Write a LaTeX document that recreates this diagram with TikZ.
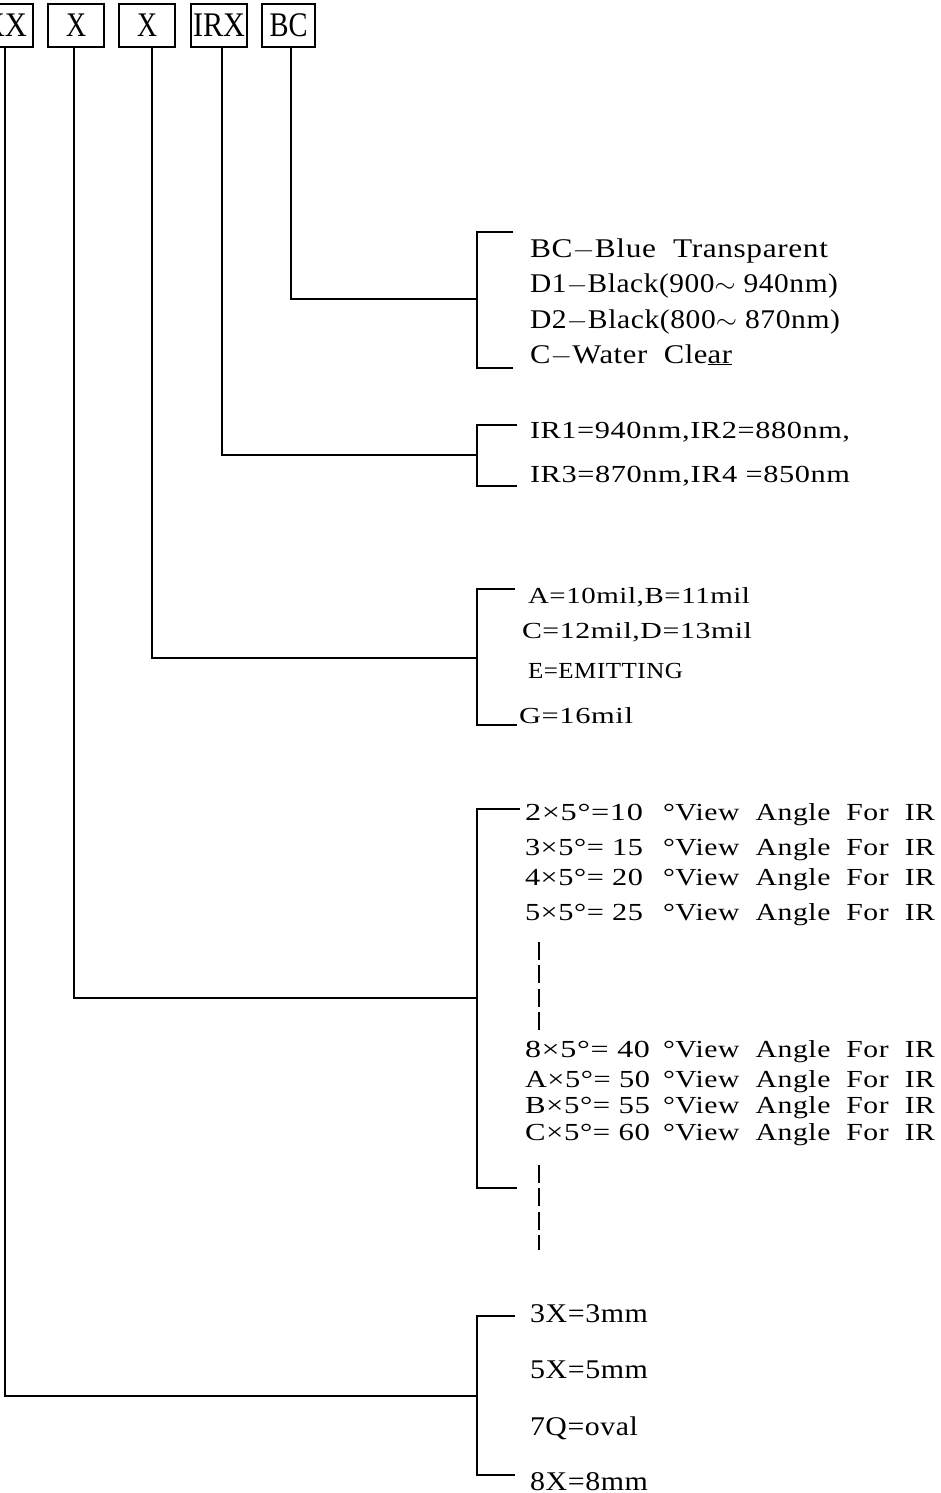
\documentclass[tikz,border=0pt]{standalone}
\usepackage{fontspec}
\usepackage{graphicx}
\setmainfont{Liberation Serif}
\newfontfamily\dfont{Liberation Serif}[LetterSpace=2]
\newcommand\ft[3]{\resizebox{#1pt}{\height}{\fontsize{#2}{#2}\dfont #3}}
\newcommand\bt[2]{\resizebox{#1pt}{\height}{\fontsize{34.5}{34.5}\selectfont #2}}
\begin{document}
\begin{tikzpicture}[x=1pt,y=-1pt,
  lbl/.style={anchor=base west, inner sep=0pt, outer sep=0pt},
  pbox/.style={draw, line width=1.3pt, minimum height=43pt, inner sep=0pt},
  wire/.style={line width=1.2pt},
  dashln/.style={line width=1.2pt, dash pattern=on 18pt off 5.3pt}]
\clip (0,0) rectangle (941,1493);
% code boxes
\node[pbox, minimum width=56pt] (b1) at (5,25.5) {\bt{44}{XX}};
\node[pbox, minimum width=56pt] (b2) at (76,25.5) {\bt{20}{X}};
\node[pbox, minimum width=56pt] (b3) at (147,25.5) {\bt{20}{X}};
\node[pbox, minimum width=56pt] (b4) at (219,25.5) {\bt{52}{IRX}};
\node[pbox, minimum width=53pt] (b5) at (288.5,25.5) {\bt{38}{BC}};
% bracket coordinates
\coordinate (g1t) at (513,232); \coordinate (g1m) at (477,299); \coordinate (g1b) at (513,368);
\coordinate (g2t) at (517,425); \coordinate (g2m) at (477,455); \coordinate (g2b) at (517,486);
\coordinate (g3t) at (515,589); \coordinate (g3m) at (477,658); \coordinate (g3b) at (517,725);
\coordinate (g4t) at (520,809); \coordinate (g4m) at (477,998); \coordinate (g4b) at (517,1188);
\coordinate (g5t) at (515,1316); \coordinate (g5m) at (477,1396); \coordinate (g5b) at (515,1475);
\foreach \g in {1,...,5} {\draw[wire] (g\g t) -| (g\g m) |- (g\g b);}
% connectors
\draw[wire] ([xshift=2.5pt]b5.south) |- (g1m);
\draw[wire] ([xshift=3pt]b4.south) |- (g2m);
\draw[wire] ([xshift=5pt]b3.south) |- (g3m);
\draw[wire] ([xshift=-2pt]b2.south) |- (g4m);
\draw[wire] (b1.south) |- (g5m);
% group 1
\node[lbl] (t11) at (530,257) {\ft{298}{27}{BC$-$Blue\ \ Transparent}};
\node[lbl] (t12) at (530,292) {\ft{308}{27}{D1$-$Black(900$\sim$ 940nm)}};
\node[lbl] (t13) at (530,328) {\ft{310}{27}{D2$-$Black(800$\sim$ 870nm)}};
\node[lbl] (t14) at (530,363) {\ft{202}{27}{C$-$Water\ \ Cle\underline{ar}}};
% group 2
\node[lbl] (t21) at (530,438) {\ft{320}{24.5}{IR1=940nm,IR2=880nm,}};
\node[lbl] (t22) at (530,482) {\ft{320}{24.5}{IR3=870nm,IR4 =850nm}};
% group 3
\node[lbl] (t31) at (528,603) {\ft{222}{23}{A=10mil,B=11mil}};
\node[lbl] (t32) at (522,638) {\ft{230}{23}{C=12mil,D=13mil}};
\node[lbl] (t33) at (528,678) {\ft{155}{23}{E=EMITTING}};
\node[lbl] (t34) at (519,723) {\ft{114}{23}{G=16mil}};
% group 4
\foreach \y/\p/\w [count=\i] in {820/2×5°=10/118, 855/3×5°= 15/118, 885/4×5°= 20/118, 920/5×5°= 25/118,
  1057/8×5°= 40/125, 1087/A×5°= 50/125, 1113/B×5°= 55/125, 1140/C×5°= 60/125} {
  \node[lbl] (p\i) at (525,\y) {\ft{\w}{24.5}{\p}};
  \node[lbl] (s\i) at (663,\y) {\ft{272}{24.5}{°View\ \ Angle\ \ For\ \ IR}};
}
\coordinate (d1a) at (539,942); \coordinate (d1b) at (539,1030);
\coordinate (d2a) at (539,1165); \coordinate (d2b) at (539,1250);
\draw[dashln] (d1a) -- (d1b);
\draw[dashln] (d2a) -- (d2b);
% group 5
\node[lbl] (t51) at (530,1322) {\ft{118}{27}{3X=3mm}};
\node[lbl] (t52) at (530,1378) {\ft{118}{27}{5X=5mm}};
\node[lbl] (t53) at (530,1435) {\ft{108}{27}{7Q=oval}};
\node[lbl] (t54) at (530,1490) {\ft{118}{27}{8X=8mm}};
\end{tikzpicture}
\end{document}
